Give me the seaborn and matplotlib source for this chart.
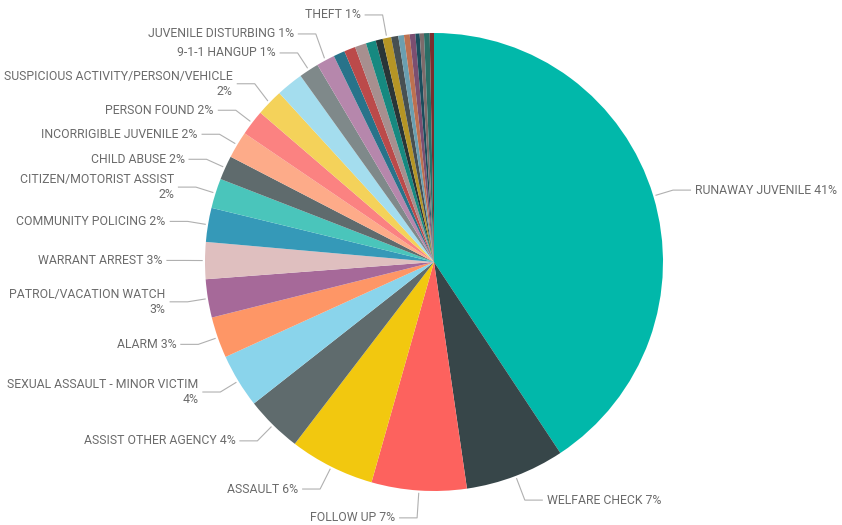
import numpy as np
import pandas as pd
import seaborn as sns
import matplotlib.pyplot as plt

sns.set_style("white")
plt.rcParams['font.family'] = ['Roboto', 'DejaVu Sans']

# call types, clockwise from 12 o'clock (counts per 1000 calls)
call_types = [
    "RUNAWAY JUVENILE", "WELFARE CHECK", "FOLLOW UP", "ASSAULT",
    "ASSIST OTHER AGENCY", "SEXUAL ASSAULT - MINOR VICTIM", "ALARM",
    "PATROL/VACATION WATCH", "WARRANT ARREST", "COMMUNITY POLICING",
    "CITIZEN/MOTORIST ASSIST", "CHILD ABUSE", "INCORRIGIBLE JUVENILE",
    "PERSON FOUND", "SUSPICIOUS ACTIVITY/PERSON/VEHICLE", "OTHER 01",
    "9-1-1 HANGUP", "JUVENILE DISTURBING", "OTHER 02", "OTHER 03",
    "OTHER 04", "OTHER 05", "OTHER 06", "THEFT", "OTHER 07", "OTHER 08",
    "OTHER 09", "OTHER 10", "OTHER 11", "OTHER 12", "OTHER 13", "OTHER 14",
]
counts = [
    407, 70, 67, 60,
    40, 38, 29,
    27, 26, 24,
    21, 17, 19,
    18, 19, 19,
    14, 13, 8, 8,
    8, 7, 5, 6, 5, 4,
    4, 4, 3, 3, 4, 3,
]
# slices that get a data label in the original
labelled = [
    "RUNAWAY JUVENILE", "WELFARE CHECK", "FOLLOW UP", "ASSAULT",
    "ASSIST OTHER AGENCY", "SEXUAL ASSAULT - MINOR VICTIM", "ALARM",
    "PATROL/VACATION WATCH", "WARRANT ARREST", "COMMUNITY POLICING",
    "CITIZEN/MOTORIST ASSIST", "CHILD ABUSE", "INCORRIGIBLE JUVENILE",
    "PERSON FOUND", "SUSPICIOUS ACTIVITY/PERSON/VEHICLE",
    "9-1-1 HANGUP", "JUVENILE DISTURBING", "THEFT",
]
# long labels wrap the percentage onto a second line
wrapped = [
    "SUSPICIOUS ACTIVITY/PERSON/VEHICLE", "CITIZEN/MOTORIST ASSIST",
    "PATROL/VACATION WATCH", "SEXUAL ASSAULT - MINOR VICTIM",
]
slice_colors = [
    "#01B8AA", "#374649", "#FD625E", "#F2C80F", "#5F6B6D", "#8AD4EB",
    "#FE9666", "#A66999", "#DFBFBF", "#3599B8", "#4AC5BB", "#5F6B6D",
    "#FDAB89", "#FB8281", "#F4D25A", "#A4DDEE", "#7F898A", "#B687AC",
    "#28738A", "#BB4A4A", "#A78F8F", "#168980", "#293537", "#B59525",
    "#475052", "#6A9FB0", "#BD7150", "#7B4F71", "#1B4D5C", "#7D6B6B",
    "#2A6E66", "#7A2E2E",
]

df = pd.DataFrame({"call_type": call_types, "count": counts})
df["pct"] = df["count"] / df["count"].sum() * 100

W, H = 842, 525
R_PX = 229          # pie radius in pixels
CX, CY = 434, 262   # pie centre in pixels (from left / from top)

fig = plt.figure(figsize=(W / 100, H / 100), dpi=100)
ax = fig.add_axes([0, 0, 1, 1])
wedges, _ = ax.pie(
    df["count"],
    colors=sns.color_palette(slice_colors),
    startangle=90,
    counterclock=False,
    radius=1,
    wedgeprops=dict(linewidth=0),
)
ax.set_xlim(-CX / R_PX, (W - CX) / R_PX)
ax.set_ylim(-(H - CY) / R_PX, CY / R_PX)
ax.axis("off")

# leader lines + labels, Power BI style
px = 1 / R_PX
items = []
for w, name, pct in zip(wedges, df["call_type"], df["pct"]):
    if name not in labelled:
        continue
    mid = np.deg2rad((w.theta1 + w.theta2) / 2)
    nlines = 2 if name in wrapped else 1
    sep = "\n" if nlines == 2 else " "
    # bottom labels sit a little further out
    r_elb = 1.09 + 0.03 * max(0, -np.sin(mid)) ** 4
    items.append(dict(
        text=f"{name}{sep}{pct:.0f}%",
        cos=np.cos(mid), sin=np.sin(mid), r=r_elb,
        y=r_elb * np.sin(mid), h=nlines * 15 * px,
    ))

# push crowded labels upward so they don't overlap
for side in (-1, 1):
    grp = sorted([it for it in items if np.sign(it["cos"]) == side], key=lambda it: it["y"])
    for lower, upper in zip(grp[:-1], grp[1:]):
        need = (lower["h"] + upper["h"]) / 2 + 4 * px
        if upper["y"] - lower["y"] < need:
            upper["y"] = lower["y"] + need

line_col = "#b0b0b0"
for it in items:
    side = 1 if it["cos"] >= 0 else -1
    x0, y0 = 1.01 * it["cos"], 1.01 * it["sin"]
    ex = it["r"] * it["cos"]
    hx = ex + side * 18 * px
    ax.plot([x0, ex, hx], [y0, it["y"], it["y"]], color=line_col, lw=0.8,
            solid_capstyle="butt")
    ax.text(hx + side * 4 * px, it["y"], it["text"],
            ha="left" if side > 0 else "right", va="center",
            multialignment="right" if side < 0 else "left",
            fontsize=8.8, color="#6b6b6b", linespacing=1.15)

fig.savefig("out.png", dpi=100)
